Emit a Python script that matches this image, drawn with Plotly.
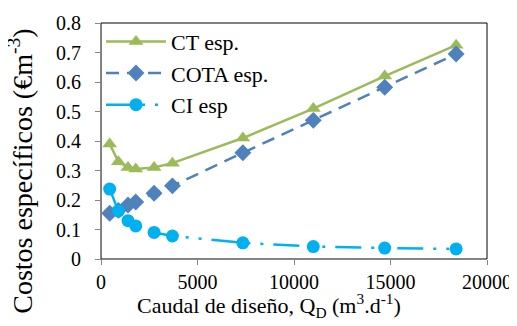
import plotly.graph_objects as go

caudal = [450, 900, 1400, 1800, 2750, 3700, 7350, 11000, 14700, 18400]
ct_esp = [0.39, 0.33, 0.31, 0.305, 0.31, 0.325, 0.41, 0.51, 0.62, 0.725]
cota_esp = [0.155, 0.165, 0.183, 0.193, 0.223, 0.248, 0.36, 0.47, 0.582, 0.695]
ci_esp = [0.237, 0.163, 0.13, 0.112, 0.09, 0.078, 0.055, 0.042, 0.037, 0.034]
x_ticks = [0, 5000, 10000, 15000, 20000]
y_ticks = [0, 0.1, 0.2, 0.3, 0.4, 0.5, 0.6, 0.7, 0.8]

font_fam = "Liberation Serif, serif"

fig = go.Figure()
fig.add_trace(go.Scatter(x=caudal, y=ct_esp, name="CT esp.", mode="lines+markers",
                         line=dict(color="#9BBB59", width=2.5),
                         marker=dict(symbol="triangle-up", size=13, color="#9BBB59")))
fig.add_trace(go.Scatter(x=caudal, y=cota_esp, name="COTA esp.", mode="lines+markers",
                         line=dict(color="#4F81BD", width=2.5, dash="13px,8px"),
                         marker=dict(symbol="diamond", size=13, color="#4F81BD")))
fig.add_trace(go.Scatter(x=caudal, y=ci_esp, name="CI esp", mode="lines+markers",
                         line=dict(color="#00B0F0", width=2.5, dash="26px,10px,3px,10px,3px,10px"),
                         marker=dict(symbol="circle", size=13, color="#00B0F0")))

# page body has an 8px default margin, so the figure is sized/offset to compensate
fig.update_layout(
    width=509, height=318,
    margin=dict(l=93, r=30, t=15, b=67),
    paper_bgcolor="white", plot_bgcolor="white",
    font=dict(family=font_fam, size=20, color="black"),
    showlegend=True,
    legend=dict(x=0.0, y=1.01, xanchor="left", yanchor="top", bgcolor="rgba(0,0,0,0)",
                font=dict(family=font_fam, size=22, color="black"), tracegroupgap=0, itemwidth=60),
    shapes=[dict(type="rect", xref="paper", yref="paper", x0=0, y0=0, x1=1, y1=1,
                 line=dict(color="black", width=1), layer="below")],
    annotations=[
        dict(text="Costos específicos (€m<sup>-3</sup>)", xref="paper", yref="paper",
             x=-0.207, y=0.37, xanchor="center", yanchor="middle", textangle=-90,
             showarrow=False, font=dict(family=font_fam, size=28, color="black")),
        dict(text="Caudal de diseño, Q<sub>D</sub> (m<sup>3</sup>.d<sup>-1</sup>)",
             xref="paper", yref="paper", x=0.434, y=-0.195, xanchor="center", yanchor="middle",
             showarrow=False, font=dict(family=font_fam, size=22, color="black")),
    ],
)
fig.update_xaxes(range=[0, 20000], tickvals=x_ticks,
                 ticktext=[str(v) for v in x_ticks], automargin=False,
                 showgrid=False, zeroline=False, showline=True, linecolor="#868686", linewidth=1,
                 ticks="outside", ticklen=5, tickcolor="#868686",
                 tickfont=dict(family=font_fam, size=20, color="black"))
fig.update_yaxes(range=[0, 0.8], tickvals=y_ticks,
                 ticktext=[("0" if v == 0 else f"{v:.1f}") + "\u00a0\u00a0" for v in y_ticks],
                 automargin=False,
                 showgrid=False, zeroline=False, showline=True, linecolor="#868686", linewidth=1,
                 ticks="outside", ticklen=5, tickcolor="#868686",
                 tickfont=dict(family=font_fam, size=20, color="black"))

fig.write_html("out.html")
